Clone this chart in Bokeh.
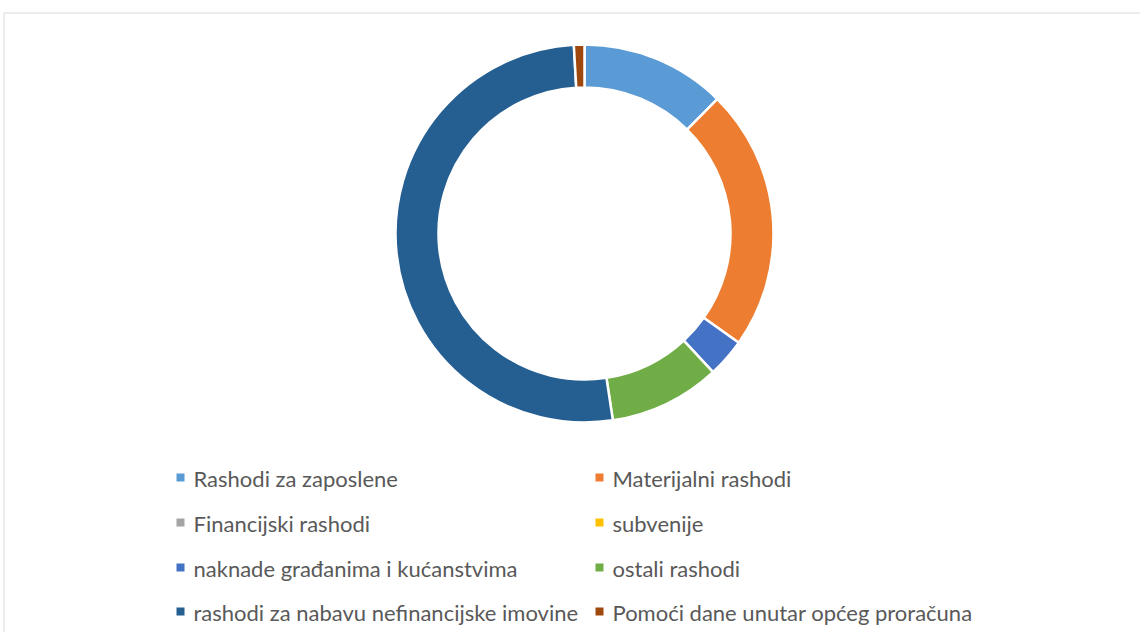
import numpy as np
from bokeh.plotting import figure
from bokeh.models import Range1d, ColumnDataSource
from bokeh.core.properties import value
from bokeh.embed import file_html
from bokeh.resources import INLINE

categories = [
    "Rashodi za zaposlene",
    "Materijalni rashodi",
    "Financijski rashodi",
    "subvenije",
    "naknade građanima i kućanstvima",
    "ostali rashodi",
    "rashodi za nabavu nefinancijske imovine",
    "Pomoći dane unutar općeg proračuna",
]
values = [12.4, 22.4, 0.0, 0.0, 3.3, 9.5, 51.5, 0.9]
colors = ["#5B9BD5", "#ED7D31", "#A5A5A5", "#FFC000", "#4472C4", "#70AD47", "#255E91", "#9E480E"]

W, H = 1140, 632
p = figure(width=W, height=H, output_backend="svg", toolbar_location=None,
           x_range=Range1d(0, W), y_range=Range1d(0, H), min_border=0)
p.axis.visible = False
p.grid.visible = False
p.outline_line_color = None
p.background_fill_color = "white"

# page y -> data y
def py(y):
    return H - y

# frame
p.line(x=[3.5, 3.5, W], y=[0, py(12.5), py(12.5)], line_color="#D9D9D9", line_width=1)

vals = np.array(values, dtype=float)
frac = vals / vals.sum()
cum = np.concatenate([[0], np.cumsum(frac)])
start = np.pi / 2 - cum[:-1] * 2 * np.pi
end = np.pi / 2 - cum[1:] * 2 * np.pi
mask = vals > 0

src = ColumnDataSource(dict(
    start=start[mask], end=end[mask],
    color=[c for c, m in zip(colors, mask) if m],
    x=[584] * int(mask.sum()), y=[py(233)] * int(mask.sum()),
))
p.annular_wedge(x="x", y="y", inner_radius=146, outer_radius=189,
                inner_radius_units="screen", outer_radius_units="screen",
                start_angle="start", end_angle="end", direction="clock",
                fill_color="color", line_color="white", line_width=2.5, source=src)

# legend (two columns, four rows)
col_sq = [180, 599]
col_tx = [193, 612]
row_c = [477, 522, 567, 611]
lx, ly, tx, ty = [], [], [], []
for i, name in enumerate(categories):
    r, c = divmod(i, 2)
    lx.append(col_sq[c]); ly.append(py(row_c[r]))
    tx.append(col_tx[c]); ty.append(py(row_c[r] + 1))
p.rect(x=lx, y=ly, width=8, height=8, width_units="screen", height_units="screen",
       fill_color=colors, line_color=None)
p.text(x=tx, y=ty, text=categories, text_font=value("Lato"), text_font_size="22px",
       text_color="#595959", text_baseline="middle", text_align="left")

open("out.html", "w").write(file_html(p, INLINE))
